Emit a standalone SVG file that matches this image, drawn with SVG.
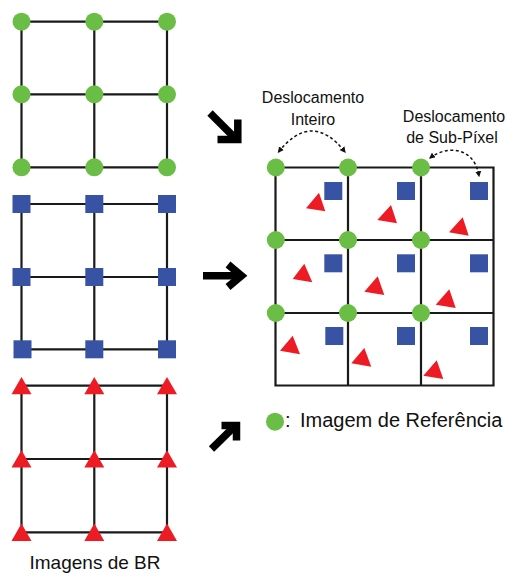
<svg xmlns="http://www.w3.org/2000/svg" width="508" height="573" viewBox="0 0 508 573">
<style>
.ln{stroke:#1a1a1a;stroke-width:2.2;fill:none}
.g{fill:#6abd45}
.b{fill:#3953a4}
.r{fill:#ed1c24}
.t{font-family:"Liberation Sans",Arial,sans-serif;fill:#111}
.arw{stroke:#000;stroke-width:7.5;fill:none;stroke-linejoin:miter;stroke-miterlimit:10}
.dash{stroke:#111;stroke-width:1.5;fill:none;stroke-dasharray:3 2.5}
</style>
<defs>
<marker id="ah" viewBox="0 0 10 10" refX="8" refY="5" markerWidth="6" markerHeight="6" orient="auto-start-reverse" markerUnits="userSpaceOnUse">
<path d="M0 0 L10 5 L0 10 Z" fill="#111"/>
</marker>
</defs>
<rect width="508" height="573" fill="#fff"/>

<g id="grid-green">
<path class="ln" d="M21.5 21.7H167M21.5 94.3H167M21.5 167.3H167M21.5 21.7V167.3M94.3 21.7V167.3M167 21.7V167.3"/>
<circle class="g" cx="21.5" cy="21.7" r="9"/><circle class="g" cx="94.3" cy="21.7" r="9"/><circle class="g" cx="167" cy="21.7" r="9"/>
<circle class="g" cx="21.5" cy="94.3" r="9"/><circle class="g" cx="94.3" cy="94.3" r="9"/><circle class="g" cx="167" cy="94.3" r="9"/>
<circle class="g" cx="21.5" cy="167.3" r="9"/><circle class="g" cx="94.3" cy="167.3" r="9"/><circle class="g" cx="167" cy="167.3" r="9"/>
</g>

<g id="grid-blue">
<path class="ln" d="M21.5 204H167M21.5 277H167M21.5 349.3H167M21.5 204V349.3M94.3 204V349.3M167 204V349.3"/>
<rect class="b" x="12.5" y="195" width="18" height="18"/><rect class="b" x="85.3" y="195" width="18" height="18"/><rect class="b" x="158" y="195" width="18" height="18"/>
<rect class="b" x="12.5" y="268" width="18" height="18"/><rect class="b" x="85.3" y="268" width="18" height="18"/><rect class="b" x="158" y="268" width="18" height="18"/>
<rect class="b" x="13.5" y="340.3" width="18" height="18"/><rect class="b" x="85.3" y="340.3" width="18" height="18"/><rect class="b" x="158" y="340.3" width="18" height="18"/>
</g>

<g id="grid-red">
<path class="ln" d="M21.5 385.7H167M21.5 459H167M21.5 532.3H167M21.5 385.7V532.3M94.3 385.7V532.3M167 385.7V532.3"/>
<polygon class="r" points="21.5,377 11.5,394.3 31.5,394.3"/><polygon class="r" points="94.3,377 84.3,394.3 104.3,394.3"/><polygon class="r" points="167,377 157,394.3 177,394.3"/>
<polygon class="r" points="21.5,450.3 11.5,467.6 31.5,467.6"/><polygon class="r" points="94.3,450.3 84.3,467.6 104.3,467.6"/><polygon class="r" points="167,450.3 157,467.6 177,467.6"/>
<polygon class="r" points="21.5,523.6 11.5,540.9 31.5,540.9"/><polygon class="r" points="94.3,523.6 84.3,540.9 104.3,540.9"/><polygon class="r" points="167,523.6 157,540.9 177,540.9"/>
</g>

<g id="label-br">
<text class="t" x="95" y="569" font-size="19" text-anchor="middle">Imagens de BR</text>
</g>

<g id="grid-result">
<path class="ln" d="M275.5 167.5H493.5V385.5H275.5Z M348 167.5V385.5M421 167.5V385.5M275.5 240H493.5M275.5 313H493.5"/>
<rect class="b" x="324.3" y="182" width="18" height="18"/><rect class="b" x="397" y="182" width="18" height="18"/><rect class="b" x="470" y="182" width="18" height="18"/>
<rect class="b" x="324.3" y="254.3" width="18" height="18"/><rect class="b" x="397" y="254.3" width="18" height="18"/><rect class="b" x="470" y="254.3" width="18" height="18"/>
<rect class="b" x="325.3" y="327" width="18" height="18"/><rect class="b" x="397" y="327" width="18" height="18"/><rect class="b" x="470" y="327" width="18" height="18"/>
<polygon class="r" points="319,192.7 306,208.3 325.3,211.3"/>
<polygon class="r" points="391,205 377.3,220 397,223.3"/>
<polygon class="r" points="462.7,217.3 449,232.3 468.7,235.7"/>
<polygon class="r" points="304.3,263.7 292.7,279 312.3,282.3"/>
<polygon class="r" points="377.7,276.3 364.3,291.7 384.3,295"/>
<polygon class="r" points="449.3,289.3 435.7,304.7 455.7,308"/>
<polygon class="r" points="292.7,335.7 280,350.7 300,354.3"/>
<polygon class="r" points="364.3,348 351.3,363.3 371.3,366.7"/>
<polygon class="r" points="436.7,360.3 423.3,375.7 443.3,379"/>
<circle class="g" cx="275.8" cy="167.5" r="9"/><circle class="g" cx="348" cy="167.5" r="9"/><circle class="g" cx="421" cy="167.5" r="9"/>
<circle class="g" cx="275.8" cy="240" r="9"/><circle class="g" cx="348" cy="240" r="9"/><circle class="g" cx="421" cy="240" r="9"/>
<circle class="g" cx="275.8" cy="313" r="9"/><circle class="g" cx="348" cy="313" r="9"/><circle class="g" cx="421" cy="313" r="9"/>
</g>

<g id="labels-shift">
<text class="t" x="313" y="102.5" font-size="16" text-anchor="middle">Deslocamento</text>
<text class="t" x="313" y="124.5" font-size="16" text-anchor="middle">Inteiro</text>
<text class="t" x="454" y="121.5" font-size="16" text-anchor="middle">Deslocamento</text>
<text class="t" x="452" y="142.5" font-size="16" text-anchor="middle">de Sub-Píxel</text>
</g>

<g id="legend">
<circle class="g" cx="275" cy="421.7" r="9"/>
<text class="t" x="285" y="427" font-size="20">:</text>
<text class="t" x="300" y="427" font-size="20">Imagem de Referência</text>
</g>

<g id="connectors">
<path class="dash" d="M278.5 152 Q312 110 345 152" marker-start="url(#ah)" marker-end="url(#ah)"/>
<path class="dash" d="M430 158 C445 146 474 145 479 176" marker-start="url(#ah)" marker-end="url(#ah)"/>
<path class="arw" d="M210 113 L237 140"/>
<path class="arw" d="M237.8 119.5 V139.6 H217.5"/>
<path class="arw" d="M203 275.7 H239"/>
<path class="arw" d="M228 264.5 L241.5 275.7 L228 287"/>
<path class="arw" d="M211.5 449 L235.5 425.5"/>
<path class="arw" d="M221.5 425.5 H236.5 V440.5"/>
</g>
</svg>
